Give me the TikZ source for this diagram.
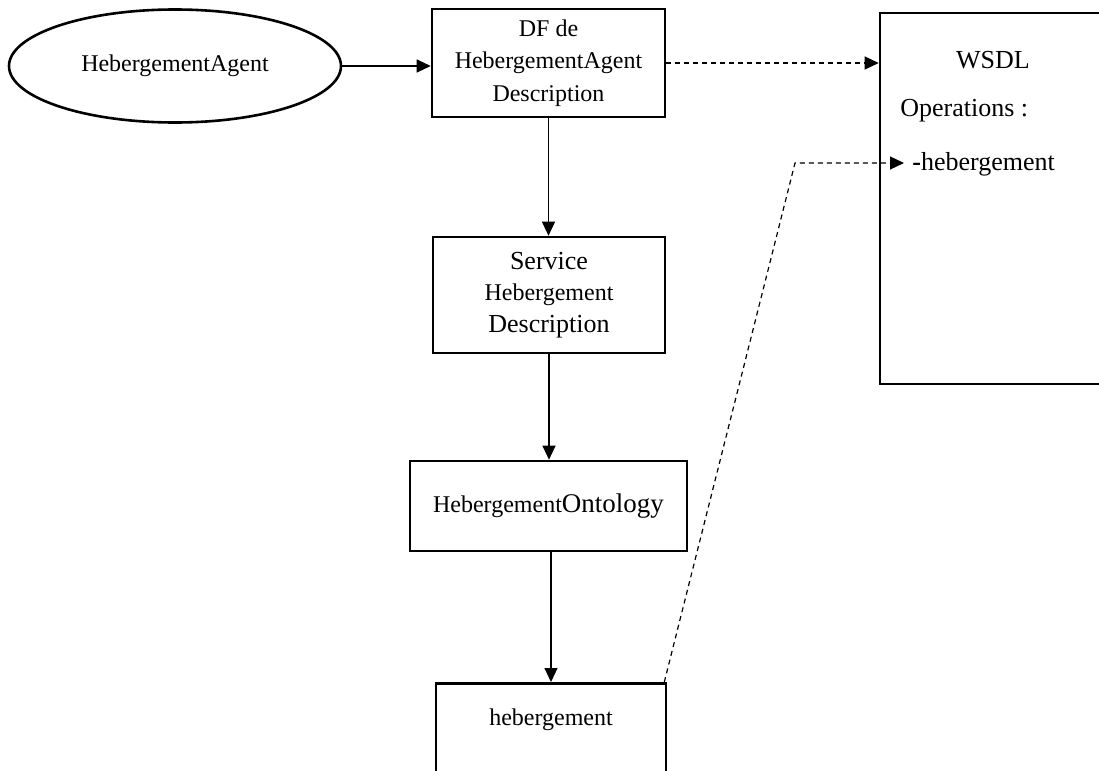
\documentclass[tikz,border=0pt]{standalone}
\usepackage{fontspec}
\setmainfont{Liberation Serif}
\usetikzlibrary{shapes.geometric,arrows.meta}

\begin{document}
\begin{tikzpicture}[x=0.5pt,y=-0.5pt,
    box/.style={draw,line width=1.3pt,align=center,inner sep=0pt},
    link/.style={-{Triangle[length=7pt,width=6.5pt]},line width=0.6pt},
    dlink/.style={link,dash pattern=on 2.5pt off 2pt}]
  \clip (0,0) rectangle (1099,771);
  % agent and its DF entry
  \node[ellipse,draw,line width=1.3pt,minimum width=166pt,minimum height=56.5pt,
        font=\fontsize{12}{15}\selectfont] (agent) at (175,66) {HebergementAgent};
  \node[box,minimum width=116.5pt,minimum height=54pt,font=\fontsize{12}{16.25}\selectfont]
        (df) at (548.5,63) {DF de\\HebergementAgent\\Description};
  \node[box,minimum width=116pt,minimum height=58pt,font=\fontsize{13}{15.75}\selectfont]
        (service) at (549,295) {Service\\{\fontsize{12}{15.75}\selectfont Hebergement}\\Description};
  \node[box,minimum width=138.5pt,minimum height=45pt,font=\fontsize{13.5}{16}\selectfont]
        (onto) at (548.5,506) {{\fontsize{12}{16}\selectfont Hebergement}Ontology};
  \node[box,anchor=north,minimum width=115pt,text height=17pt,text depth=50pt,inner ysep=4pt,
        font=\fontsize{12}{15}\selectfont] (heb) at (551,682) {hebergement};
  % WSDL side
  \node[box,minimum width=125pt,minimum height=185.5pt] (wsdl) at (1005,198.5) {};
  \node[font=\fontsize{13}{15}\selectfont] (wsdltitle) at (993,60) {WSDL};
  \node[font=\fontsize{13}{15}\selectfont,anchor=west,inner sep=0pt] (ops) at (900,111) {Operations :};
  \node[font=\fontsize{13}{15}\selectfont,anchor=west,inner sep=0pt] (op1) at (912,164) {\textbf{-}hebergement};
  \coordinate (bend) at (795,163);

  \draw[link] (agent.east) -- (agent.east -| df.west);
  \draw[dlink] (df.east) -- (df.east -| wsdl.west);
  \draw[link] (df.south) -- (df.south |- service.north);
  \draw[link] (service.south) -- (service.south |- onto.north);
  \draw[link] (onto.south -| heb.north) -- (heb.north);
  \draw[dlink] ([xshift=-1.5pt]heb.north east) -- (bend) -- ([xshift=-4pt]bend -| op1.west);
\end{tikzpicture}
\end{document}
